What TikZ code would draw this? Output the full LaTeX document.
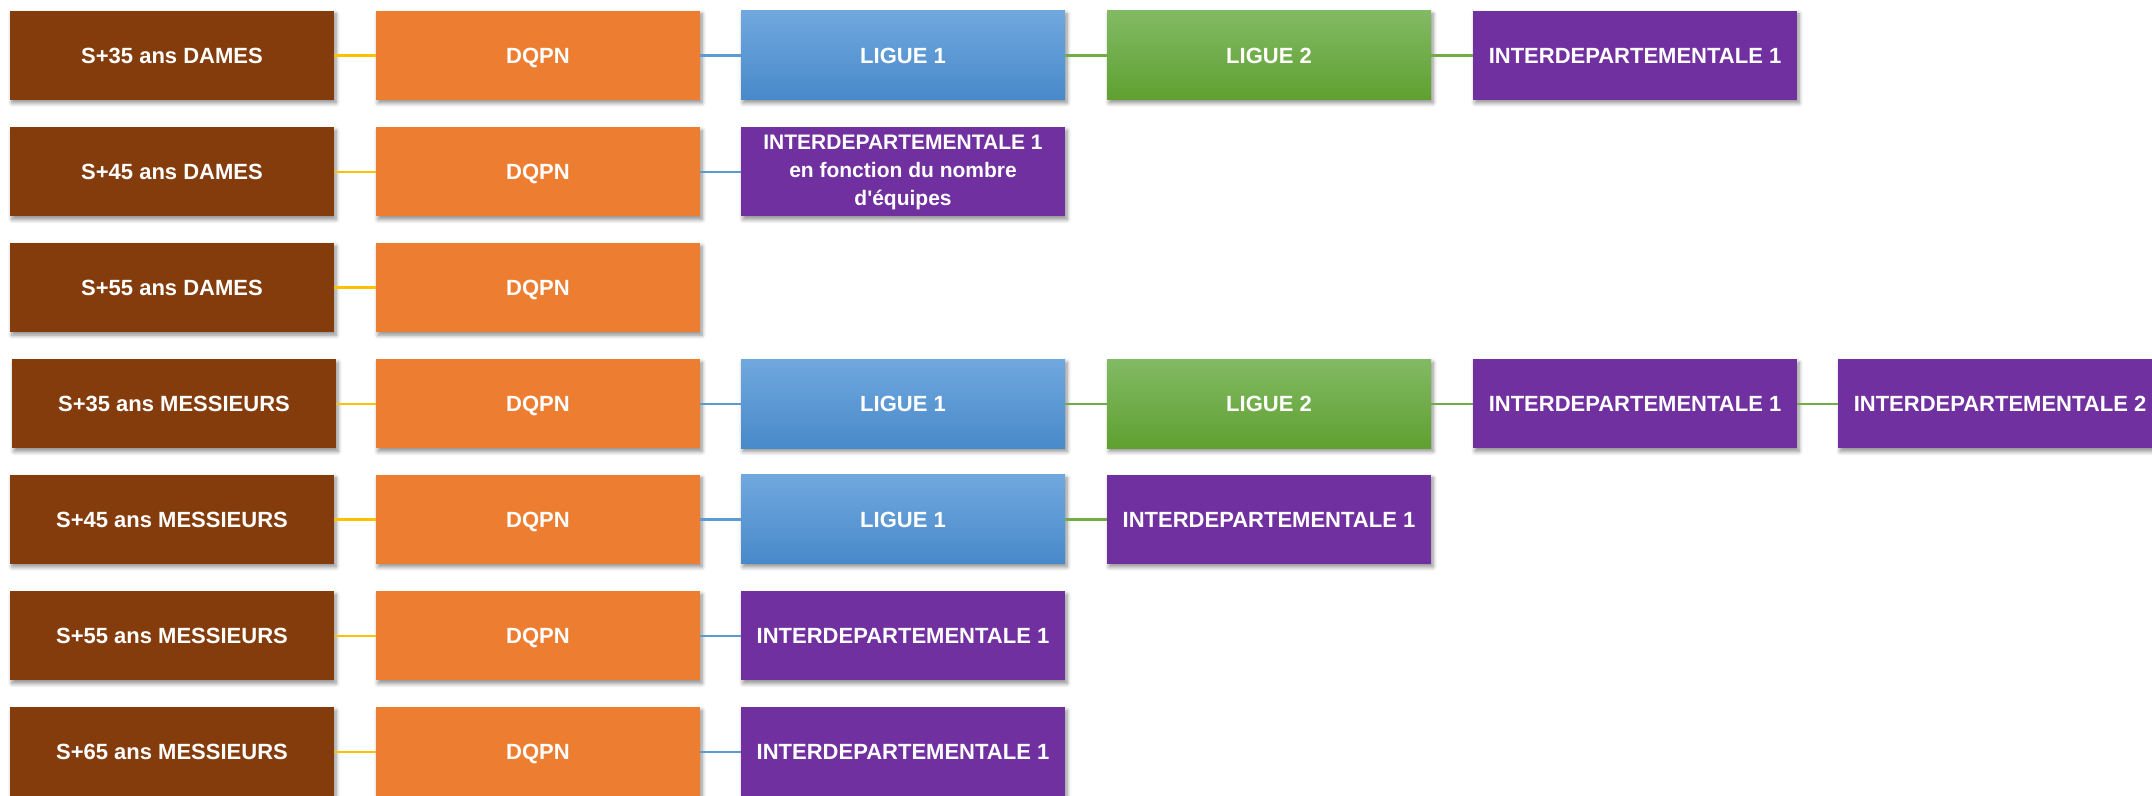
\documentclass[tikz,border=0pt]{standalone}
\usepackage{fontspec}
\setmainfont{Liberation Sans}
\usetikzlibrary{shadows.blur}
\definecolor{cbrown}{HTML}{843C0C}
\definecolor{corange}{HTML}{ED7D31}
\definecolor{cpurple}{HTML}{7030A0}
\definecolor{cbluetop}{HTML}{70A8DE}
\definecolor{cbluebot}{HTML}{4889CA}
\definecolor{cgreentop}{HTML}{82BA64}
\definecolor{cgreenbot}{HTML}{5FA030}
\definecolor{lgold}{HTML}{FFC000}
\definecolor{lblue}{HTML}{5B9BD5}
\definecolor{lgreen}{HTML}{70AD47}
\tikzset{
  box/.style={minimum width=324pt, minimum height=89pt, inner sep=0pt, text=white,
    font=\bfseries\fontsize{22}{26}\selectfont, align=center,
    text height=15.8pt, text depth=0pt,
    blur shadow={shadow xshift=2pt, shadow yshift=-3pt, shadow opacity=45, shadow blur steps=6, shadow blur radius=4pt}},
  cat/.style={box, fill=cbrown},
  dqpn/.style={box, fill=corange},
  lig1/.style={box, top color=cbluetop, bottom color=cbluebot},
  lig2/.style={box, top color=cgreentop, bottom color=cgreenbot},
  inter/.style={box, fill=cpurple},
  cgold/.style={draw=lgold, line width=2.5pt},
  cblue/.style={draw=lblue, line width=2.5pt},
  cgreen/.style={draw=lgreen, line width=2.5pt}
}
\begin{document}
\begin{tikzpicture}[x=1pt,y=1pt]
\useasboundingbox (0,0) rectangle (2152,795);
% row 1
\node[cat]   (a1) at (172,739.5) {S+35 ans DAMES};
\node[dqpn]  (b1) at (538,739.5) {DQPN};
\node[lig1]  (c1) at (903,739.5) {LIGUE 1};
\node[lig2]  (d1) at (1269,739.5) {LIGUE 2};
\node[inter] (e1) at (1635,739.5) {INTERDEPARTEMENTALE 1};
% row 2
\node[cat]   (a2) at (172,623) {S+45 ans DAMES};
\node[dqpn]  (b2) at (538,623) {DQPN};
\node[inter, text height=, text depth=, font=\bfseries\fontsize{21}{28}\selectfont] (c2) at (903,623) {INTERDEPARTEMENTALE 1\\en fonction du nombre\\d\textquotesingle équipes};
% row 3
\node[cat]   (a3) at (172,507.3) {S+55 ans DAMES};
\node[dqpn]  (b3) at (538,507.3) {DQPN};
% row 4
\node[cat]   (a4) at (174,391) {S+35 ans MESSIEURS};
\node[dqpn]  (b4) at (538,391) {DQPN};
\node[lig1]  (c4) at (903,391) {LIGUE 1};
\node[lig2]  (d4) at (1269,391) {LIGUE 2};
\node[inter] (e4) at (1635,391) {INTERDEPARTEMENTALE 1};
\node[inter] (f4) at (2000,391) {INTERDEPARTEMENTALE 2};
% row 5
\node[cat]   (a5) at (172,275.5) {S+45 ans MESSIEURS};
\node[dqpn]  (b5) at (538,275.5) {DQPN};
\node[lig1]  (c5) at (903,275.5) {LIGUE 1};
\node[inter] (d5) at (1269,275.5) {INTERDEPARTEMENTALE 1};
% row 6
\node[cat]   (a6) at (172,159) {S+55 ans MESSIEURS};
\node[dqpn]  (b6) at (538,159) {DQPN};
\node[inter] (c6) at (903,159) {INTERDEPARTEMENTALE 1};
% row 7
\node[cat]   (a7) at (172,43) {S+65 ans MESSIEURS};
\node[dqpn]  (b7) at (538,43) {DQPN};
\node[inter] (c7) at (903,43) {INTERDEPARTEMENTALE 1};
% connectors
\foreach \r in {1,...,7} \draw[cgold] (a\r.east) -- (b\r.west);
\foreach \r in {1,2,4,5,6,7} \draw[cblue] (b\r.east) -- (c\r.west);
\draw[cgreen] (c1.east) -- (d1.west);
\draw[cgreen] (d1.east) -- (e1.west);
\draw[cgreen] (c4.east) -- (d4.west);
\draw[cgreen] (d4.east) -- (e4.west);
\draw[cgreen] (e4.east) -- (f4.west);
\draw[cgreen] (c5.east) -- (d5.west);
\end{tikzpicture}
\end{document}
